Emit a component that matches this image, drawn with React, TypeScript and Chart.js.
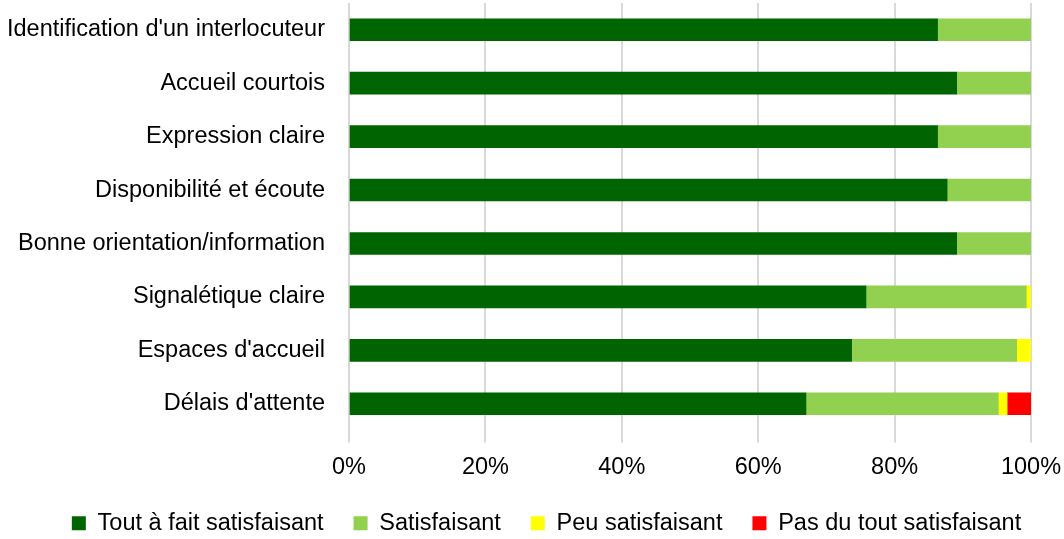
import React, { useEffect, useRef } from "react";
import { Chart, registerables } from "chart.js";

Chart.register(...registerables);

const categories = [
  "Identification d'un interlocuteur",
  "Accueil courtois",
  "Expression claire",
  "Disponibilité et écoute",
  "Bonne orientation/information",
  "Signalétique claire",
  "Espaces d'accueil",
  "Délais d'attente",
];

const toutAFait = [86.3, 89.1, 86.3, 87.7, 89.1, 75.8, 73.7, 67.0];
const satisfaisant = [13.7, 10.9, 13.7, 12.3, 10.9, 23.5, 24.2, 28.2];
const peuSatisfaisant = [0, 0, 0, 0, 0, 0.7, 2.1, 1.3];
const pasDuTout = [0, 0, 0, 0, 0, 0, 0, 3.5];

const seriesNames = [
  "Tout à fait satisfaisant",
  "Satisfaisant",
  "Peu satisfaisant",
  "Pas du tout satisfaisant",
];

const FONT = "'Liberation Sans', Arial, sans-serif";
const FS = 23.5;

const shiftLegend = {
  id: "shiftLegend",
  afterLayout(chart: any) {
    const lg = chart.legend;
    if (lg) {
      lg.left += 29;
      lg.right += 29;
    }
  },
};

export default function App() {
  const ref = useRef<HTMLCanvasElement | null>(null);

  useEffect(() => {
    document.body.style.margin = "0";
    const ctx = ref.current!;
    const colors = ["#006400", "#92D050", "#FFFF00", "#FF0000"];
    const data = [toutAFait, satisfaisant, peuSatisfaisant, pasDuTout];
    const chart = new Chart(ctx, {
      type: "bar",
      data: {
        labels: categories,
        datasets: data.map((d, i) => ({
          label: seriesNames[i],
          data: d,
          backgroundColor: colors[i],
          borderWidth: 0,
          barThickness: 22,
        })),
      },
      plugins: [shiftLegend],
      options: {
        indexAxis: "y",
        animation: false,
        responsive: false,
        maintainAspectRatio: false,
        layout: { padding: { left: 4, right: 33, top: 3, bottom: -6 } },
        scales: {
          x: {
            stacked: true,
            min: 0,
            max: 100,
            border: { display: false },
            grid: { color: "#d9d9d9", lineWidth: 2, tickLength: 12, drawTicks: true, tickColor: "#d9d9d9" },
            ticks: {
              stepSize: 20,
              color: "#000",
              padding: 11,
              font: { family: FONT, size: FS },
              callback: (v: any) => v + "%",
            },
            afterFit: (s: any) => {
              s.height = 51;
              s.paddingLeft = 0;
              s.paddingRight = 0;
            },
          },
          y: {
            stacked: true,
            border: { display: false },
            grid: { display: false, drawTicks: false, tickLength: 0 },
            ticks: {
              color: "#000",
              padding: 24,
              font: { family: FONT, size: FS },
            },
            afterFit: (s: any) => {
              s.width = 345;
              s.paddingTop = 0;
              s.paddingBottom = 0;
            },
          },
        },
        plugins: {
          tooltip: { enabled: false },
          legend: {
            position: "bottom",
            labels: {
              color: "#000",
              boxWidth: 14,
              boxHeight: 14,
              padding: 30,
              font: { family: FONT, size: FS },
            },
          },
        },
      },
    });
    return () => chart.destroy();
  }, []);

  return (
    <div style={{ width: 1064, height: 539 }}>
      <canvas ref={ref} width={1064} height={539} style={{ display: "block" }} />
    </div>
  );
}
